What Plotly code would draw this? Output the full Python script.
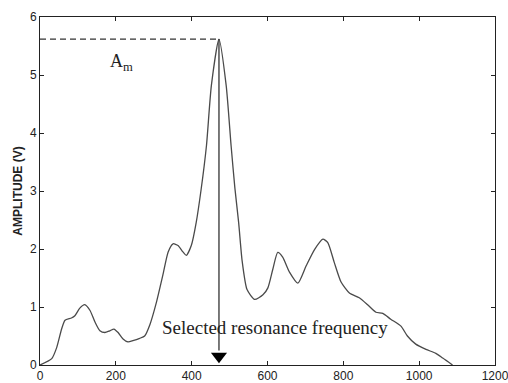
import plotly.graph_objects as go

freq = [0, 31, 44, 57, 66, 83, 92, 105, 118, 132, 145, 158, 171, 184, 195, 206, 219, 232, 245, 263,
        276, 290, 307, 324, 338, 351, 364, 377, 386, 399, 412, 425, 439, 452, 472, 491,
        504, 514, 524, 533, 546, 566, 588, 601, 614, 627, 640, 658, 680, 702, 724, 746, 759, 776,
        794, 816, 842, 864, 886, 904, 925, 952, 969, 991, 1018, 1044, 1062, 1088]
amp = [0, 0.11, 0.3, 0.62, 0.77, 0.81, 0.85, 0.98, 1.04, 0.94, 0.74, 0.59, 0.56, 0.59, 0.62, 0.56,
       0.45, 0.40, 0.42, 0.46, 0.50, 0.70, 1.08, 1.55, 1.95, 2.09, 2.06, 1.95, 1.89, 2.06, 2.46,
       3.03, 3.78, 4.82, 5.62, 4.82, 3.78, 3.05, 2.45, 1.8, 1.3, 1.13, 1.21, 1.33,
       1.65, 1.94, 1.86, 1.60, 1.41, 1.71, 1.99, 2.17, 2.11, 1.77, 1.43, 1.24, 1.16, 1.04, 0.91,
       0.89, 0.79, 0.67, 0.50, 0.36, 0.27, 0.20, 0.12, 0]

x_ticks = [0, 200, 400, 600, 800, 1000, 1200]
y_ticks = [0, 1, 2, 3, 4, 5, 6]
y_title = "<b>AMPLITUDE (V)</b>"
peak_label = "A<sub>m</sub>"
arrow_label = "Selected resonance frequency"

pk = max(range(len(amp)), key=lambda i: amp[i])
pk_f, pk_a = freq[pk], amp[pk]

fig = go.Figure()
fig.add_trace(go.Scatter(x=freq, y=amp, mode="lines",
                         line=dict(color="#4a4a4a", width=1.3, shape="spline", smoothing=0.6),
                         hoverinfo="skip", showlegend=False))
# dashed line to peak
fig.add_trace(go.Scatter(x=[0, pk_f], y=[pk_a, pk_a], mode="lines",
                         line=dict(color="#333", width=1.3, dash="6px,4px"),
                         showlegend=False, hoverinfo="skip"))
# arrow line
fig.add_trace(go.Scatter(x=[pk_f, pk_f], y=[pk_a, 0.25], mode="lines",
                         line=dict(color="#333", width=1.3),
                         showlegend=False, hoverinfo="skip"))
fig.add_trace(go.Scatter(x=[pk_f], y=[0.15], mode="markers",
                         marker=dict(symbol="triangle-down", size=14, color="#000"),
                         showlegend=False, hoverinfo="skip"))

fig.add_annotation(x=216, y=5.22, text=peak_label, showarrow=False,
                   font=dict(family="Liberation Serif", size=18, color="#222"))
fig.add_annotation(x=621, y=0.64, text=arrow_label, showarrow=False,
                   font=dict(family="Liberation Serif", size=19, color="#222"))

axis_common = dict(showgrid=False, zeroline=False, showline=True, linecolor="#222", linewidth=1,
                   mirror="ticks", ticks="inside", ticklen=4, tickcolor="#222",
                   tickfont=dict(family="Liberation Sans", size=12, color="#222"))
fig.update_xaxes(range=[0, 1200], tickvals=x_ticks, ticklabeloverflow="allow",
                 automargin=False, **axis_common)
fig.update_yaxes(range=[0, 6], tickvals=y_ticks, automargin=False,
                 title=dict(text=y_title, font=dict(family="Liberation Sans", size=12, color="#222"),
                            standoff=4),
                 **axis_common)

fig.update_layout(width=508, height=383, margin=dict(l=40, r=13, t=17, b=18),
                  paper_bgcolor="white", plot_bgcolor="white")
fig.write_html("out.html")
